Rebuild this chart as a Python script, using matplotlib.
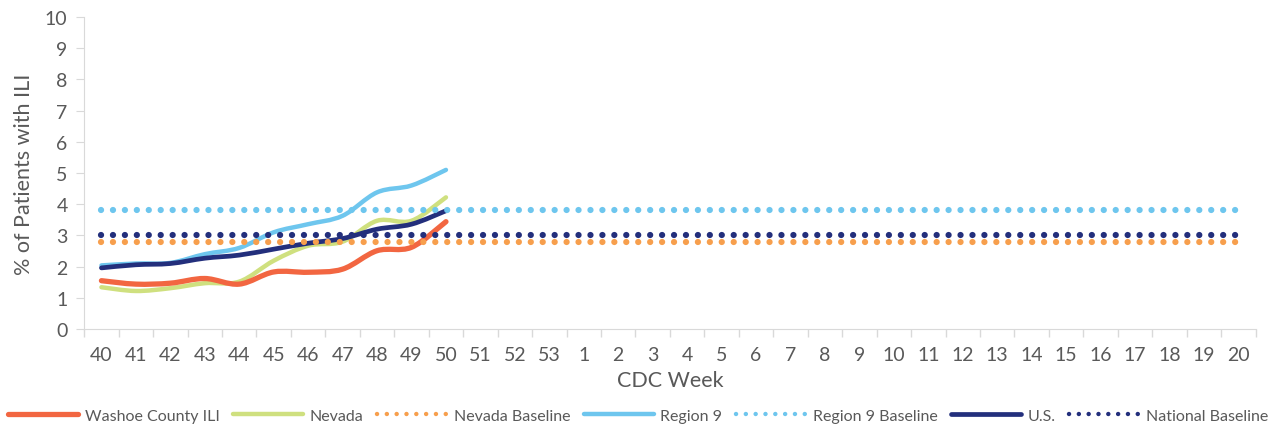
import numpy as np
import matplotlib.pyplot as plt
from matplotlib.path import Path
from matplotlib.patches import PathPatch
from matplotlib.lines import Line2D

plt.rcParams['font.family'] = ['Lato', 'DejaVu Sans']

weeks = [str(w) for w in range(40, 54)] + [str(w) for w in range(1, 21)]

washoe = [1.55, 1.44, 1.47, 1.62, 1.44, 1.83, 1.82, 1.92, 2.51, 2.62, 3.44]
nevada = [1.34, 1.22, 1.31, 1.47, 1.52, 2.19, 2.67, 2.8, 3.47, 3.47, 4.22]
region9 = [2.04, 2.1, 2.12, 2.4, 2.6, 3.1, 3.36, 3.63, 4.38, 4.6, 5.1]
us = [1.96, 2.06, 2.1, 2.27, 2.37, 2.56, 2.75, 2.9, 3.2, 3.36, 3.79]

nevada_base = [2.8] * len(weeks)
region9_base = [3.8] * len(weeks)
national_base = [3.0] * len(weeks)

c_washoe = '#f26641'
c_nevada = '#cfe07f'
c_nvbase = '#f79f4d'
c_region = '#6ec6ee'
c_us = '#232f7c'
grey = '#595959'


def smooth_path(x, y):
    # catmull-rom style bezier like excel's smoothed line
    x = np.asarray(x, float)
    y = np.asarray(y, float)
    verts = [(x[0], y[0])]
    codes = [Path.MOVETO]
    n = len(x)
    for i in range(n - 1):
        x0, y0 = (x[i - 1], y[i - 1]) if i > 0 else (x[i], y[i])
        x3, y3 = (x[i + 2], y[i + 2]) if i + 2 < n else (x[i + 1], y[i + 1])
        c1 = (x[i] + (x[i + 1] - x0) / 6, y[i] + (y[i + 1] - y0) / 6)
        c2 = (x[i + 1] - (x3 - x[i]) / 6, y[i + 1] - (y3 - y[i]) / 6)
        verts += [c1, c2, (x[i + 1], y[i + 1])]
        codes += [Path.CURVE4] * 3
    return Path(verts, codes)


fig = plt.figure(figsize=(12.76, 4.27), dpi=100)
ax = fig.add_axes([0.066, 0.227, 0.918, 0.731])

pos = np.arange(len(weeks))
dot = (0, (0.01, 1.9))

ax.plot(pos, nevada_base, color=c_nvbase, lw=4.5, ls=dot, dash_capstyle='round')
ax.plot(pos, region9_base, color=c_region, lw=4.5, ls=dot, dash_capstyle='round')
ax.plot(pos, national_base, color=c_us, lw=4.5, ls=dot, dash_capstyle='round')

series = [(region9, c_region, 3.2), (nevada, c_nevada, 3.2), (us, c_us, 3.4), (washoe, c_washoe, 3.8)]
for vals, col, lw in series:
    p = smooth_path(pos[:len(vals)], vals)
    ax.add_patch(PathPatch(p, facecolor='none', edgecolor=col, lw=lw, capstyle='round', joinstyle='round'))

ax.set_xlim(-0.5, len(weeks) - 0.5)
ax.set_ylim(0, 10)
ax.set_yticks(range(0, 11))
ax.set_xticks(pos)
ax.set_xticklabels(weeks)
ax.set_xticks(np.arange(-0.5, len(weeks), 1), minor=True)
ax.tick_params(axis='x', which='major', length=0, pad=12, labelsize=14, colors=grey)
ax.tick_params(axis='x', which='minor', length=6, color='#d9d9d9', width=1)
ax.tick_params(axis='y', length=6, color='#d9d9d9', labelsize=14, labelcolor=grey, pad=6)

for s in ['top', 'right']:
    ax.spines[s].set_visible(False)
for s in ['left', 'bottom']:
    ax.spines[s].set_color('#d9d9d9')

ax.set_xlabel('CDC Week', fontsize=15.5, color=grey, labelpad=5)
ax.set_ylabel('% of Patients with ILI', fontsize=15.5, color=grey, labelpad=8)

handles = [
    Line2D([], [], color=c_washoe, lw=3.8, solid_capstyle='round'),
    Line2D([], [], color=c_nevada, lw=3.2, solid_capstyle='round'),
    Line2D([], [], color=c_nvbase, lw=3.2, ls=(0, (0.01, 2.2)), dash_capstyle='round'),
    Line2D([], [], color=c_region, lw=3.2, solid_capstyle='round'),
    Line2D([], [], color=c_region, lw=3.2, ls=(0, (0.01, 2.2)), dash_capstyle='round'),
    Line2D([], [], color=c_us, lw=3.4, solid_capstyle='round'),
    Line2D([], [], color=c_us, lw=3.2, ls=(0, (0.01, 2.2)), dash_capstyle='round'),
]
labels = ['Washoe County ILI', 'Nevada', 'Nevada Baseline', 'Region 9',
          'Region 9 Baseline', 'U.S.', 'National Baseline']
leg = fig.legend(handles, labels, loc='center', bbox_to_anchor=(0.5, 0.024), ncol=7,
                 frameon=False, fontsize=11.5, handlelength=4.4, handletextpad=0.4,
                 columnspacing=0.85)
for t in leg.get_texts():
    t.set_color(grey)

fig.savefig('out.png', dpi=100)
